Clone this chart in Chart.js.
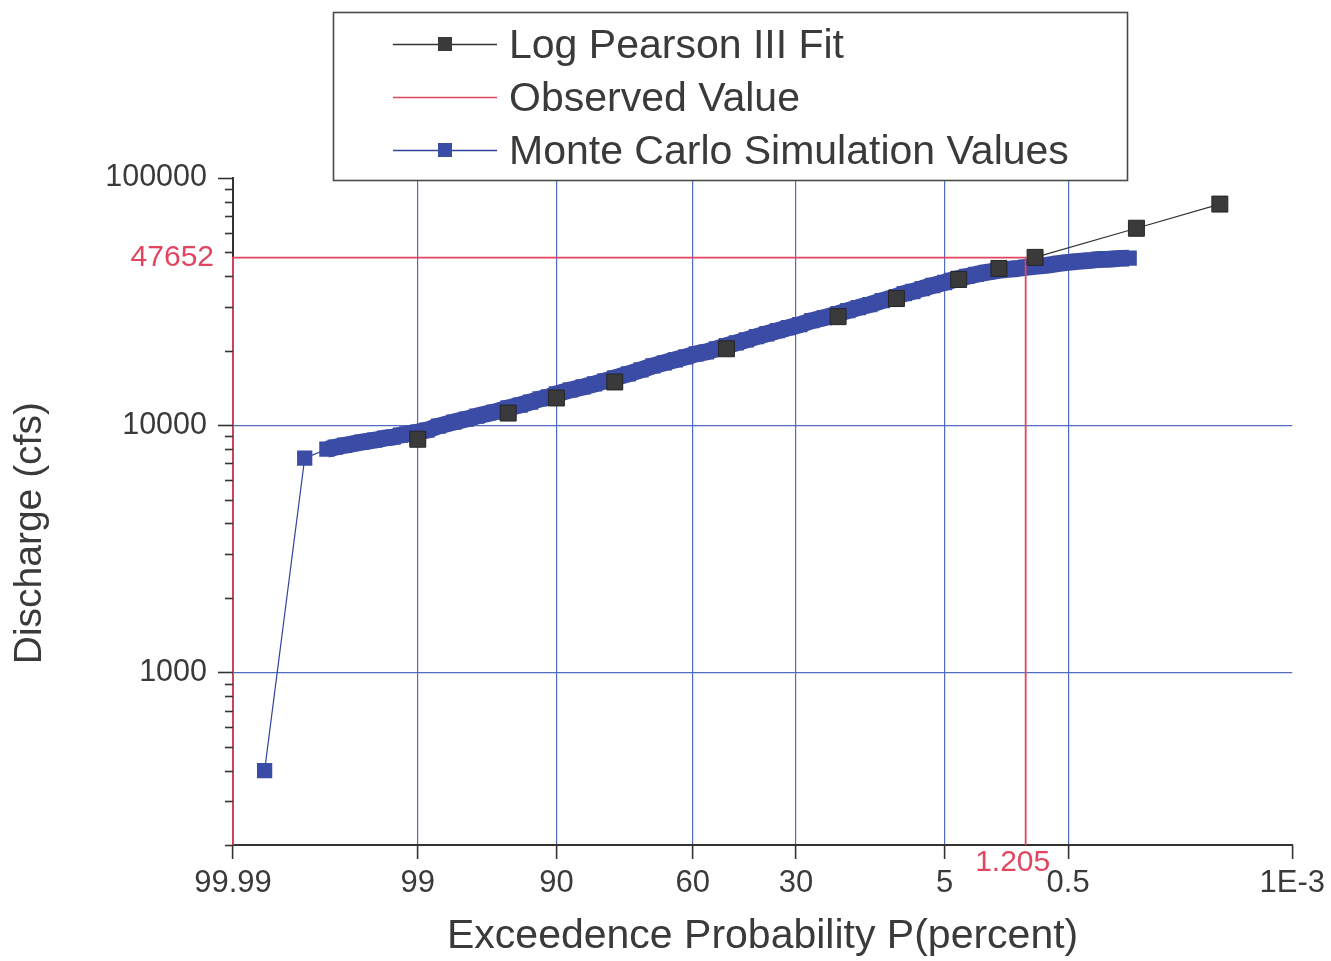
<!DOCTYPE html>
<html><head><meta charset="utf-8">
<script src="https://cdn.jsdelivr.net/npm/chart.js@4.4.1/dist/chart.umd.min.js"></script>
<style>html,body{margin:0;padding:0;background:#fff;overflow:hidden}</style>
</head><body>
<canvas id="c" width="1331" height="961" style="width:1331px;height:961px"></canvas>
<script>
// ---------- data ----------
const xTickLabels = ['99.99', '99', '90', '60', '30', '5', '0.5', '1E-3'];
const xTickPercents = [99.99, 99, 90, 60, 30, 5, 0.5, 0.001];
const yLabelValues = [1000, 10000, 100000];
const observedDischarge = 47652;
const observedPercent = 1.205;

const lp3Percent = [99, 95, 90, 80, 50, 20, 10, 4, 2, 1, 0.1, 0.01];
const lp3Discharge = [8770, 11190, 12880, 14950, 20370, 27480, 32530, 38860, 43060, 47730, 62620, 78420];

const obsPercent = [99.99, 99.99, 1.205, 1.205];
const obsDischarge = [200, 47652, 47652, 200];

const mcPercent = [99.975, 99.926, 99.87, 99.84, 99.8, 99.7, 99.6, 99.5, 99.4, 99.3, 99.2, 99,
  98.8, 98.5, 98, 97.5, 97, 96, 95, 94, 93, 92, 91, 90, 88, 86, 84, 82, 80,
  77, 74, 71, 68, 65, 62, 59, 56, 53, 50, 47, 44, 41, 38, 35, 32, 29, 26, 23, 20,
  18, 16, 14, 12, 10, 9, 8, 7, 6, 5, 4.5, 4, 3.5, 3, 2.5, 2, 1.7, 1.4, 1.2, 1,
  0.8, 0.6, 0.5, 0.4, 0.3, 0.25, 0.2, 0.15, 0.12];
const mcDischarge = [400, 7350, 7990, 8140, 8290, 8530, 8690, 8860, 8940, 9110, 9190, 9370,
  9540, 9910, 10290, 10580, 10880, 11290, 11730, 12060, 12400, 12760, 13000, 13370, 13880, 14270, 14680, 15100, 15530,
  16120, 16730, 17370, 17870, 18380, 18900, 19440, 19800, 20370, 20950, 21540, 22150, 22790, 23430, 24100, 24790, 25490, 26470, 27230, 28270,
  29070, 29900, 30740, 31920, 33140, 34080, 34730, 35710, 36730, 37770, 38490, 39220, 39960, 40720, 41480, 42270, 42670, 43060, 43470, 43880,
  44290, 45130, 45550, 45980, 46420, 46850, 46900, 47290, 47400];

// ---------- normal probability transform (exceedance % -> standard normal variate) ----------
function probit(p) {
  const a = [-3.969683028665376e+01, 2.209460984245205e+02, -2.759285104469687e+02, 1.383577518672690e+02, -3.066479806614716e+01, 2.506628277459239e+00];
  const b = [-5.447609879822406e+01, 1.615858368580409e+02, -1.556989798598866e+02, 6.680131188771972e+01, -1.328068155288572e+01];
  const c = [-7.784894002430293e-03, -3.223964580411365e-01, -2.400758277161838e+00, -2.549732539343734e+00, 4.374664141464968e+00, 2.938163982698783e+00];
  const d = [7.784695709041462e-03, 3.224671290700398e-01, 2.445134137142996e+00, 3.754408661907416e+00];
  const pl = 0.02425, ph = 1 - pl;
  let q, r;
  if (p < pl) {
    q = Math.sqrt(-2 * Math.log(p));
    return (((((c[0]*q+c[1])*q+c[2])*q+c[3])*q+c[4])*q+c[5]) / ((((d[0]*q+d[1])*q+d[2])*q+d[3])*q+1);
  }
  if (p <= ph) {
    q = p - 0.5; r = q * q;
    return (((((a[0]*r+a[1])*r+a[2])*r+a[3])*r+a[4])*r+a[5])*q / (((((b[0]*r+b[1])*r+b[2])*r+b[3])*r+b[4])*r+1);
  }
  q = Math.sqrt(-2 * Math.log(1 - p));
  return -(((((c[0]*q+c[1])*q+c[2])*q+c[3])*q+c[4])*q+c[5]) / ((((d[0]*q+d[1])*q+d[2])*q+d[3])*q+1);
}
const zOf = P => probit(1 - P / 100);
const pts = (ps, qs) => ps.map((p, i) => ({x: zOf(p), y: qs[i]}));

// ---------- styles ----------
const FONT = '"Liberation Sans", Arial, Helvetica, sans-serif';
const TEXT = '#3a3a3a';
const RED = '#e2455f';
const GRID_BLUE = '#4f6cc0';
const LP3_LINE = '#333333';
const MC_LINE = '#33459c';
const MC_FILL = '#3b4ca6';

const decorations = {
  id: 'decorations',
  afterDraw(chart) {
    const ctx = chart.ctx, ys = chart.scales.y, xs = chart.scales.x, ca = chart.chartArea;
    ctx.save();
    // y tick marks (long at decades, short at minor ticks)
    ctx.strokeStyle = '#333';
    ctx.lineWidth = 1.6;
    ys.ticks.forEach(t => {
      const len = yLabelValues.includes(t.value) ? 15 : 8;
      const py = Math.round(ys.getPixelForValue(t.value)) + 0.5;
      ctx.beginPath(); ctx.moveTo(ca.left - len, py); ctx.lineTo(ca.left, py); ctx.stroke();
    });
    // observed discharge label on the y axis
    ctx.fillStyle = RED;
    ctx.font = '30px ' + FONT;
    ctx.textAlign = 'right';
    ctx.textBaseline = 'middle';
    ctx.fillText(String(observedDischarge), ca.left - 19, ys.getPixelForValue(observedDischarge));
    // observed exceedance label
    ctx.textAlign = 'center';
    ctx.fillText(String(observedPercent), xs.getPixelForValue(zOf(observedPercent)) - 13, ca.bottom + 18);

    // legend box
    const bx0 = 333.5, by0 = 12.5, bx1 = 1127.5, by1 = 180.5;
    ctx.fillStyle = '#fff';
    ctx.fillRect(bx0, by0, bx1 - bx0, by1 - by0);
    ctx.strokeStyle = '#4a4a4a';
    ctx.lineWidth = 1.6;
    ctx.strokeRect(bx0, by0, bx1 - bx0, by1 - by0);
    const rows = [44, 97, 150];
    chart.data.datasets.filter(ds => ds.label).forEach((ds, i) => {
      const yy = rows[i];
      ctx.strokeStyle = ds.legendLine;
      ctx.lineWidth = 1.4;
      ctx.beginPath(); ctx.moveTo(393, yy + 0.5); ctx.lineTo(497, yy + 0.5); ctx.stroke();
      if (ds.pointRadius > 0) {
        ctx.fillStyle = ds.pointBackgroundColor;
        ctx.fillRect(438, yy - 7, 14, 14);
      }
      ctx.fillStyle = TEXT;
      ctx.font = '41px ' + FONT;
      ctx.textAlign = 'left';
      ctx.textBaseline = 'alphabetic';
      ctx.fillText(ds.label, 509, yy + 14);
    });
    ctx.restore();
  }
};

new Chart(document.getElementById('c'), {
  type: 'scatter',
  data: {
    datasets: [
      {
        label: 'Log Pearson III Fit',
        legendLine: LP3_LINE,
        order: 0,
        data: pts(lp3Percent, lp3Discharge),
        showLine: false,
        pointStyle: 'rect',
        pointRadius: 11.3,
        pointBackgroundColor: '#3a3a3a',
        pointBorderColor: '#262626',
        pointBorderWidth: 1
      },
      {
        label: 'Observed Value',
        legendLine: RED,
        order: 1,
        data: pts(obsPercent, obsDischarge),
        showLine: true,
        borderColor: RED,
        borderWidth: 1.8,
        pointRadius: 0,
        clip: false
      },
      {
        label: 'Monte Carlo Simulation Values',
        legendLine: MC_LINE,
        order: 2,
        data: pts(mcPercent, mcDischarge),
        showLine: true,
        borderColor: MC_LINE,
        borderWidth: 1.2,
        borderJoinStyle: 'round',
        segment: {
          borderWidth: c => c.p0DataIndex < 2 ? 1.2 : 17,
          borderColor: c => c.p0DataIndex < 2 ? MC_LINE : MC_FILL
        },
        pointStyle: 'rect',
        pointRadius: 10.8,
        pointBackgroundColor: MC_FILL,
        pointBorderColor: MC_FILL,
        pointBorderWidth: 0
      },
      {
        // connecting line of the Log Pearson III fit, drawn beneath the simulation band
        order: 3,
        data: pts(lp3Percent, lp3Discharge),
        showLine: true,
        borderColor: LP3_LINE,
        borderWidth: 1.2,
        pointRadius: 0
      }
    ]
  },
  options: {
    responsive: false,
    animation: false,
    devicePixelRatio: 1,
    layout: {padding: {top: 178, right: 35, bottom: 0, left: 0}},
    plugins: {legend: {display: false}, tooltip: {enabled: false}},
    scales: {
      x: {
        type: 'linear',
        min: zOf(xTickPercents[0]),
        max: zOf(xTickPercents[xTickPercents.length - 1]),
        afterBuildTicks: s => { s.ticks = xTickPercents.map(p => ({value: zOf(p)})); },
        afterFit: s => { s.height = 116; },
        ticks: {
          autoSkip: false, maxRotation: 0, padding: 6, color: TEXT,
          font: {size: 31, family: FONT},
          callback: (v, i) => xTickLabels[i]
        },
        grid: {
          color: c => (c.index === 0 || c.index === xTickPercents.length - 1) ? 'rgba(0,0,0,0)' : GRID_BLUE,
          lineWidth: 1.2, tickLength: 14, tickColor: '#333', tickWidth: 1.6
        },
        border: {color: '#333', width: 2},
        title: {
          display: true, text: 'Exceedence Probability P(percent)', color: TEXT,
          font: {size: 41, family: FONT}, padding: {top: 0, bottom: 0}
        }
      },
      y: {
        type: 'logarithmic',
        min: 200,
        max: 100000,
        afterBuildTicks: s => {
          const vals = [];
          for (let dec = 100; dec <= 10000; dec *= 10) {
            for (let m = (dec === 100 ? 2 : 1); m <= 9; m++) vals.push(m * dec);
          }
          vals.push(100000);
          s.ticks = vals.map(v => ({value: v}));
        },
        afterFit: s => { s.width = 233; },
        ticks: {
          autoSkip: false, padding: 11, color: TEXT,
          font: {size: 30.5, family: FONT},
          callback: v => yLabelValues.includes(v) ? String(v) : ''
        },
        grid: {
          color: c => (c.tick && (c.tick.value === 1000 || c.tick.value === 10000)) ? GRID_BLUE : 'rgba(0,0,0,0)',
          lineWidth: 1.2, tickLength: 15, tickColor: 'rgba(0,0,0,0)'
        },
        border: {color: '#333', width: 2, z: -1},
        title: {
          display: true, text: 'Discharge (cfs)    ', color: TEXT,
          font: {size: 39, family: FONT}, padding: {top: 7, bottom: 0}
        }
      }
    }
  },
  plugins: [decorations]
});
</script>
</body></html>
